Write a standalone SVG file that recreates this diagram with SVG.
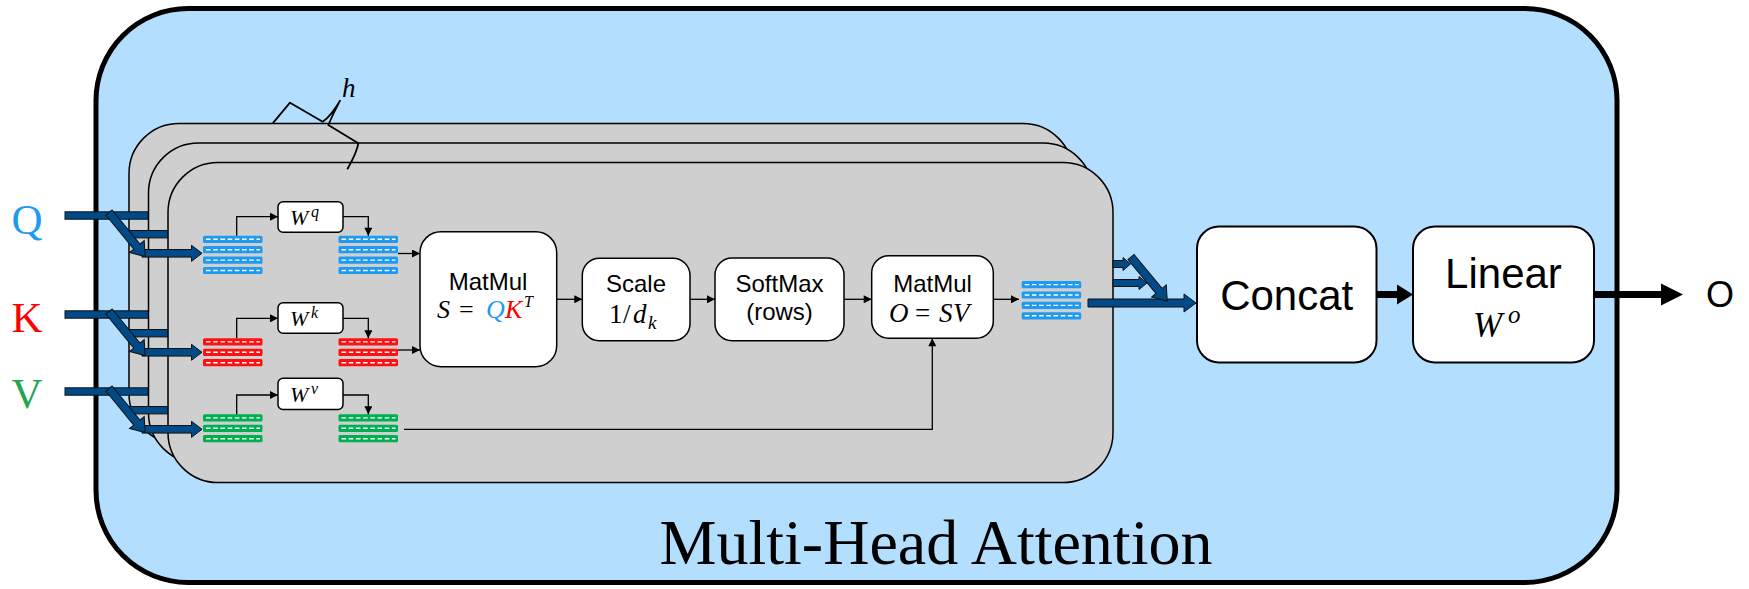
<svg xmlns="http://www.w3.org/2000/svg" xmlns:xlink="http://www.w3.org/1999/xlink" width="1749" height="589" viewBox="0 0 1749 589">
<defs>
<style>
.layer{fill:#cfcfcf;stroke:#000;stroke-width:1.5}
.box{fill:#fff;stroke:#000;stroke-width:1.5}
.bigbox{fill:#fff;stroke:#000;stroke-width:2}
.ib{fill:#004a87;stroke:#111;stroke-width:1}
.sans{font-family:"Liberation Sans",Arial,sans-serif;fill:#000}
.math{font-family:"Liberation Serif","Times New Roman",serif;font-style:italic;fill:#000}
.serif{font-family:"Liberation Serif","Times New Roman",serif}
.conn{fill:none;stroke:#000;stroke-width:1.3}
.thick{fill:#000}
</style>
<marker id="ah" viewBox="0 0 10 10" refX="10" refY="5" markerWidth="9" markerHeight="8" markerUnits="userSpaceOnUse" orient="auto"><path d="M0,0 L10,5 L0,10 z" fill="#000"/></marker>
<g id="row"><rect width="59.5" height="7.2" rx="1.5"/><line x1="3" y1="3.6" x2="57" y2="3.6" stroke="#fff" stroke-width="1.4" stroke-dasharray="4.6 2.6"/></g>
<polygon id="diag" points="0,-4 44,-4 44,-9.5 57,0 44,9.5 44,4 0,4" class="ib"/>
<g id="bar1"><rect x="65" y="-3.7" width="84" height="7.4" class="ib"/></g>
<g id="bar2"><rect x="128" y="15" width="41" height="7.4" class="ib"/></g>
<g id="bar3"><path d="M142,34 H191.5 V29.8 L202,37.8 L191.5,45.8 V41.6 H142 Z" class="ib"/><use xlink:href="#diag" transform="translate(109,-3) rotate(50.7)"/></g>
</defs>

<g id="mha-frame">
<rect x="96" y="8.5" width="1521" height="574" rx="92" fill="#b3defd" stroke="#000" stroke-width="5"/>
<text x="936" y="564" text-anchor="middle" class="serif" font-size="64" fill="#000">Multi-Head Attention</text>
</g>

<g id="inputs">
<text x="27" y="234" text-anchor="middle" class="serif" font-size="43" fill="#1e9bf0">Q</text>
<text x="27" y="332" text-anchor="middle" class="serif" font-size="43" fill="#ff0000">K</text>
<text x="27" y="408" text-anchor="middle" class="serif" font-size="43" fill="#22a650">V</text>
</g>

<g id="head-layer-1">
<rect x="129" y="123.5" width="944" height="320" rx="50" class="layer"/>
<use xlink:href="#bar1" transform="translate(0,215.5)"/>
<use xlink:href="#bar1" transform="translate(0,314.5)"/>
<use xlink:href="#bar1" transform="translate(0,391.5)"/>
</g>
<g id="head-layer-2">
<rect x="148.5" y="143" width="944.5" height="320" rx="50" class="layer"/>
<use xlink:href="#bar2" transform="translate(0,215.5)"/>
<use xlink:href="#bar2" transform="translate(0,314.5)"/>
<use xlink:href="#bar2" transform="translate(0,391.5)"/>
</g>
<g id="head-layer-3">
<rect x="168" y="162.5" width="945" height="320" rx="50" class="layer"/>
</g>

<g id="input-arrows">
<use xlink:href="#bar3" transform="translate(0,215.5)"/>
<use xlink:href="#bar3" transform="translate(0,314.5)"/>
<use xlink:href="#bar3" transform="translate(0,391.5)"/>
</g>

<g id="h-brace">
<path d="M272.7,123.3 L290,102.7 L322.7,121.7 Q331,116 340,100.7 Q333,114 328.3,125 L358.3,143.3 Q357,152 347.3,169.3" fill="none" stroke="#000" stroke-width="1.8" stroke-linejoin="round"/>
<text x="342" y="97" class="math" font-size="27">h</text>
</g>

<g id="q-in" fill="#1e9bf0">
<use xlink:href="#row" x="203" y="235.7"/><use xlink:href="#row" x="203" y="246.1"/><use xlink:href="#row" x="203" y="256.5"/><use xlink:href="#row" x="203" y="266.9"/>
</g>
<g id="q-proj" fill="#1e9bf0">
<use xlink:href="#row" x="338.5" y="235.7"/><use xlink:href="#row" x="338.5" y="246.1"/><use xlink:href="#row" x="338.5" y="256.5"/><use xlink:href="#row" x="338.5" y="266.9"/>
</g>
<g id="k-in" fill="#ff1010">
<use xlink:href="#row" x="203" y="338.3"/><use xlink:href="#row" x="203" y="348.7"/><use xlink:href="#row" x="203" y="359.1"/>
</g>
<g id="k-proj" fill="#ff1010">
<use xlink:href="#row" x="338.5" y="338.3"/><use xlink:href="#row" x="338.5" y="348.7"/><use xlink:href="#row" x="338.5" y="359.1"/>
</g>
<g id="v-in" fill="#00b050">
<use xlink:href="#row" x="203" y="414.3"/><use xlink:href="#row" x="203" y="424.7"/><use xlink:href="#row" x="203" y="435.1"/>
</g>
<g id="v-proj" fill="#00b050">
<use xlink:href="#row" x="338.5" y="414.3"/><use xlink:href="#row" x="338.5" y="424.7"/><use xlink:href="#row" x="338.5" y="435.1"/>
</g>
<g id="head-out" fill="#1e9bf0">
<use xlink:href="#row" x="1021.7" y="281"/><use xlink:href="#row" x="1021.7" y="291.4"/><use xlink:href="#row" x="1021.7" y="301.8"/><use xlink:href="#row" x="1021.7" y="312.2"/>
</g>

<g id="wq">
<rect x="278" y="201.7" width="65" height="30.6" rx="5" class="box"/>
<text class="math" font-size="22"><tspan x="290" y="225">W</tspan><tspan x="311" y="217" font-size="16">q</tspan></text>
</g>
<g id="wk">
<rect x="278" y="302.7" width="65" height="30.6" rx="5" class="box"/>
<text class="math" font-size="22"><tspan x="290" y="326">W</tspan><tspan x="311" y="318" font-size="16">k</tspan></text>
</g>
<g id="wv">
<rect x="278" y="378.3" width="65" height="31.2" rx="5" class="box"/>
<text class="math" font-size="22"><tspan x="290" y="401.6">W</tspan><tspan x="311" y="393.6" font-size="16">v</tspan></text>
</g>

<g id="matmul1">
<rect x="420" y="231.7" width="136.7" height="135" rx="21" class="box"/>
<text x="488" y="290" text-anchor="middle" class="sans" font-size="24">MatMul</text>
<text class="math" font-size="26"><tspan x="437" y="318">S</tspan><tspan x="459" y="318" font-style="normal">=</tspan><tspan x="486" y="318" fill="#1e9bf0">Q</tspan><tspan x="505" y="318" fill="#ff0000">K</tspan><tspan x="524" y="307" font-size="16">T</tspan></text>
</g>
<g id="scale">
<rect x="582.3" y="258.3" width="107.7" height="82.4" rx="17" class="box"/>
<text x="636" y="291.7" text-anchor="middle" class="sans" font-size="24">Scale</text>
<text class="math" font-size="27"><tspan x="609" y="323.3" font-style="normal">1</tspan><tspan x="623" y="323.3" font-style="normal">/</tspan><tspan x="633" y="323.3">d</tspan><tspan x="648" y="329" font-size="19">k</tspan></text>
</g>
<g id="softmax">
<rect x="715" y="258" width="129" height="82.7" rx="17" class="box"/>
<text x="779.5" y="291.7" text-anchor="middle" class="sans" font-size="24">SoftMax</text>
<text x="779.5" y="320" text-anchor="middle" class="sans" font-size="24">(rows)</text>
</g>
<g id="matmul2">
<rect x="871.7" y="255.7" width="121.6" height="82.6" rx="17" class="box"/>
<text x="932.5" y="291.7" text-anchor="middle" class="sans" font-size="24">MatMul</text>
<text class="math" font-size="27"><tspan x="889" y="322.3">O</tspan><tspan x="915" y="322.3" font-style="normal">=</tspan><tspan x="939" y="322.3">S</tspan><tspan x="953" y="322.3">V</tspan></text>
</g>

<g id="output-arrows">
<path d="M1113,260.5 H1123 V257.5 L1130.5,264 L1123,270.5 V267.5 H1113 Z" class="ib"/>
<path d="M1113,279.5 H1139 V276.5 L1147,283 L1139,289.5 V286.5 H1113 Z" class="ib"/>
<path d="M1088,299 H1184 V294 L1196,303 L1184,312 V307 H1088 Z" class="ib"/>
<use xlink:href="#diag" transform="translate(1131,257) rotate(50.5)"/>
</g>

<g id="concat">
<rect x="1197" y="226.5" width="179.5" height="136" rx="22" class="bigbox"/>
<text x="1286.7" y="310" text-anchor="middle" class="sans" font-size="42">Concat</text>
</g>
<g id="linear">
<rect x="1413" y="226.5" width="181" height="136" rx="22" class="bigbox"/>
<text x="1503.5" y="288" text-anchor="middle" class="sans" font-size="42">Linear</text>
<text class="math" font-size="35"><tspan x="1473" y="337">W</tspan><tspan x="1508" y="323" font-size="25">o</tspan></text>
</g>
<g id="output">
<text x="1720" y="307" text-anchor="middle" class="sans" font-size="36">O</text>
</g>

<g id="connectors">
<path d="M236.7,235.7 V216.7 H278" class="conn" marker-end="url(#ah)"/>
<path d="M343,216.7 H368.3 V235.7" class="conn" marker-end="url(#ah)"/>
<path d="M236.7,338.3 V318.3 H278" class="conn" marker-end="url(#ah)"/>
<path d="M343,318.3 H368.3 V338.3" class="conn" marker-end="url(#ah)"/>
<path d="M236.7,414.3 V395 H278" class="conn" marker-end="url(#ah)"/>
<path d="M343,395 H368.3 V414.3" class="conn" marker-end="url(#ah)"/>
<path d="M398,253.5 H420" class="conn" marker-end="url(#ah)"/>
<path d="M398,350 H420" class="conn" marker-end="url(#ah)"/>
<path d="M556.7,299.3 H582.3" class="conn" marker-end="url(#ah)"/>
<path d="M690,299.3 H715" class="conn" marker-end="url(#ah)"/>
<path d="M844,299.3 H871.7" class="conn" marker-end="url(#ah)"/>
<path d="M993.3,299.3 H1019" class="conn" marker-end="url(#ah)"/>
<path d="M404,429.3 H932.3 V338.3" class="conn" marker-end="url(#ah)"/>
<path d="M1376.5,291 H1397 V284.5 L1413,294.5 L1397,304.5 V298 H1376.5 Z" class="thick"/>
<path d="M1594,291 H1661 V283.5 L1683,294.5 L1661,305.5 V298 H1594 Z" class="thick"/>
</g>
</svg>
